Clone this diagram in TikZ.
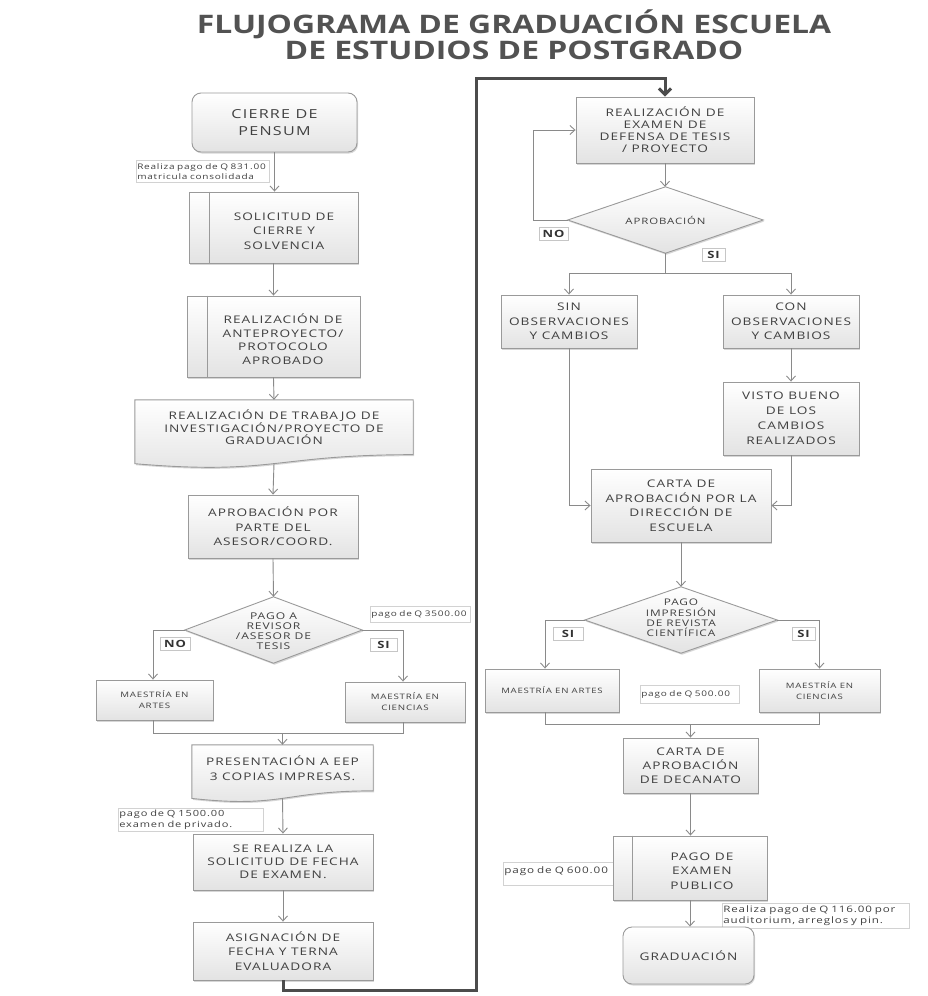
\documentclass[tikz,border=0pt]{standalone}
\usepackage{fontspec}
\setmainfont{Open Sans}[FakeStretch=1.3,LetterSpace=10]
\newfontfamily\titlefont{Open Sans}[FakeStretch=1.25]
\usetikzlibrary{arrows.meta,shadows,calc}
\definecolor{txt}{HTML}{404040}
\definecolor{edgec}{HTML}{9A9A9A}
\definecolor{arrowc}{HTML}{8A8A8A}
\tikzset{
  boxfill/.style={draw=edgec, line width=0.9pt, top color=white, bottom color=gray!22,
    drop shadow={shadow xshift=1pt, shadow yshift=-1.5pt, fill=gray!70, opacity=0.45}},
  pbox/.style={boxfill, rectangle, text=txt, align=center, inner sep=1pt, font=\fontsize{10.5}{14.5}\selectfont},
  rbox/.style={pbox, rounded corners=9pt},
  txtnode/.style={text=txt, align=center, inner sep=0pt, font=\fontsize{10.5}{14.5}\selectfont},
  note/.style={draw=gray!35, line width=0.6pt, fill=white, text=txt, align=left, inner sep=1pt,
    font=\fontsize{7.7}{10}\selectfont, anchor=north west},
  lbl/.style={draw=gray!45, line width=0.6pt, fill=white, text=black!80,
    font=\bfseries\fontsize{10}{10}\selectfont, inner sep=1pt, minimum height=13},
  arr/.style={draw=arrowc, line width=0.9pt, -{Straight Barb[length=5pt,width=9pt]}},
  ln/.style={draw=arrowc, line width=0.9pt},
  sepline/.style={draw=edgec, line width=0.9pt},
  big/.style={draw=black!70, line width=3pt, -{Straight Barb[length=6pt,width=12pt]}},
}
\begin{document}
\begin{tikzpicture}[x=1pt,y=-1pt]
\fill[white] (0,0) rectangle (927,996);
\useasboundingbox (0,0) rectangle (927,996);

% title
\node[font=\titlefont\bfseries\fontsize{25.5}{25.5}\selectfont, text=black!68, align=center] (title) at (514,35)
  {FLUJOGRAMA DE GRADUACIÓN ESCUELA\\DE ESTUDIOS DE POSTGRADO};

% ---------------- left column ----------------
\node[rbox, minimum width=165, minimum height=59, font=\fontsize{12.4}{17}\selectfont] (cierre) at (274.5,122.5) {CIERRE DE\\PENSUM};
\node[note, text width=131, minimum height=22] (n1) at (136,160) {Realiza pago de Q 831.00\\matricula consolidada};

\node[pbox, minimum width=169, minimum height=71] (solic) at (273.5,227.5) {};
\draw[sepline] ($(solic.north west)+(21,0)$) -- ($(solic.south west)+(21,0)$);
\node[txtnode] (solicT) at (284,231) {SOLICITUD DE\\CIERRE Y\\SOLVENCIA};

\node[pbox, minimum width=173, minimum height=81] (ante) at (273.5,336.5) {};
\draw[sepline] ($(ante.north west)+(21,0)$) -- ($(ante.south west)+(21,0)$);
\node[txtnode, font=\fontsize{10.5}{13.5}\selectfont] (anteT) at (283,339) {REALIZACIÓN DE\\ANTEPROYECTO/\\PROTOCOLO\\APROBADO};

\node[inner sep=0, minimum width=278, minimum height=68] (trab) at (274,434) {};
\path[boxfill] (trab.north west) -- (trab.north east) -- ($(trab.north east)!0.802!(trab.south east)$)
  .. controls ($(trab.north)!0.802!(trab.south)$) and ($(trab.north)!1.107!(trab.south)$) ..
  ($(trab.north west)!0.934!(trab.south west)$) -- cycle;
\node[txtnode, font=\fontsize{10.5}{11.7}\selectfont] (trabT) at (274,427) {REALIZACIÓN DE TRABAJO DE\\INVESTIGACIÓN/PROYECTO DE\\GRADUACIÓN};

\node[pbox, minimum width=170, minimum height=63] (aprob) at (273,526.5) {APROBACIÓN POR\\PARTE DEL\\ASESOR/COORD.};

\node[inner sep=0, minimum width=177, minimum height=66] (d1) at (273.5,630) {};
\path[boxfill] (d1.west) -- (d1.north) -- (d1.east) -- (d1.south) -- cycle;
\node[txtnode, font=\fontsize{9.3}{9.8}\selectfont] (d1T) at (273.5,631) {PAGO A\\REVISOR\\/ASESOR DE\\TESIS};
\node[note, text width=98, minimum height=16] (n3500) at (370,606) {pago de Q 3500.00};

\node[pbox, minimum width=117, minimum height=40, font=\fontsize{7.5}{11}\selectfont] (artes1) at (154.5,700) {MAESTRÍA EN\\ARTES};
\node[pbox, minimum width=120, minimum height=40, font=\fontsize{7.5}{11}\selectfont] (cien1) at (405,702) {MAESTRÍA EN\\CIENCIAS};

\node[inner sep=0, minimum width=181, minimum height=57] (pres) at (282.5,773.5) {};
\path[boxfill] (pres.north west) -- (pres.north east) -- ($(pres.north east)!0.802!(pres.south east)$)
  .. controls ($(pres.north)!0.802!(pres.south)$) and ($(pres.north)!1.107!(pres.south)$) ..
  ($(pres.north west)!0.934!(pres.south west)$) -- cycle;
\node[txtnode] (presT) at (282.5,768) {PRESENTACIÓN A EEP\\3 COPIAS IMPRESAS.};

\node[note, text width=143, minimum height=23, font=\fontsize{8.5}{10.5}\selectfont] (n1500) at (118,808) {pago de Q 1500.00\\examen de privado.};
\node[pbox, minimum width=180, minimum height=56, font=\fontsize{10.5}{13}\selectfont] (solf) at (283,862) {SE REALIZA LA\\SOLICITUD DE FECHA\\DE EXAMEN.};
\node[pbox, minimum width=180, minimum height=58] (asig) at (283,951) {ASIGNACIÓN DE\\FECHA Y TERNA\\EVALUADORA};

% ---------------- right column ----------------
\node[pbox, minimum width=178, minimum height=66, font=\fontsize{10.5}{12}\selectfont] (exam) at (665,130) {REALIZACIÓN DE\\EXAMEN DE\\DEFENSA DE TESIS\\/ PROYECTO};

\node[inner sep=0, minimum width=195, minimum height=66] (d2) at (665.5,220) {};
\path[boxfill] (d2.west) -- (d2.north) -- (d2.east) -- (d2.south) -- cycle;
\node[txtnode, font=\fontsize{8.8}{9}\selectfont] (d2T) at (665.5,220) {APROBACIÓN};

\node[pbox, minimum width=136, minimum height=53] (sin) at (569,321.5) {SIN\\OBSERVACIONES\\Y CAMBIOS};
\node[pbox, minimum width=136, minimum height=53] (con) at (791,321.5) {CON\\OBSERVACIONES\\Y CAMBIOS};
\node[pbox, minimum width=136, minimum height=73, font=\fontsize{10.5}{15}\selectfont] (visto) at (791,418.5) {VISTO BUENO\\DE LOS\\CAMBIOS\\REALIZADOS};
\node[pbox, minimum width=180, minimum height=73] (cartadir) at (681,505.5) {CARTA DE\\APROBACIÓN POR LA\\DIRECCIÓN DE\\ESCUELA};

\node[inner sep=0, minimum width=192, minimum height=66] (d3) at (681,620) {};
\path[boxfill] (d3.west) -- (d3.north) -- (d3.east) -- (d3.south) -- cycle;
\node[txtnode, font=\fontsize{9.1}{10.3}\selectfont] (d3T) at (681,618) {PAGO\\IMPRESIÓN\\DE REVISTA\\CIENTÍFICA};

\node[pbox, minimum width=134, minimum height=43, font=\fontsize{7.4}{11}\selectfont] (artes2) at (552,690.5) {MAESTRÍA EN ARTES};
\node[note, text width=97, minimum height=18] (n500) at (640,685) {pago de Q 500.00};
\node[pbox, minimum width=121, minimum height=43, font=\fontsize{7.4}{11}\selectfont] (cien2) at (819.5,690.5) {MAESTRÍA EN\\CIENCIAS};

\node[pbox, minimum width=135, minimum height=55, font=\fontsize{10.5}{14}\selectfont] (decan) at (690.5,765.5) {CARTA DE\\APROBACIÓN\\DE DECANATO};

\node[note, text width=108, minimum height=23, font=\fontsize{9}{11}\selectfont] (n600) at (503,862) {pago de Q 600.00\\[-3pt] \mbox{}};
\node[pbox, minimum width=154, minimum height=64] (pagopub) at (690,868) {};
\draw[sepline] ($(pagopub.north west)+(20,0)$) -- ($(pagopub.south west)+(20,0)$);
\node[txtnode] (pagopubT) at (702,871) {PAGO DE\\EXAMEN\\PUBLICO};

\node[note, text width=185, minimum height=25, font=\fontsize{8.9}{11}\selectfont] (n116) at (722,903) {Realiza pago de Q 116.00 por\\auditorium, arreglos y pin.};
\node[rbox, minimum width=131, minimum height=57] (grad) at (688.5,955.5) {GRADUACIÓN};

% ---------------- connectors left ----------------
\draw[arr] (cierre.south) -- (cierre.south |- solic.north);
\draw[arr] (solic.south) -- (ante.north);
\draw[arr] (ante.south) -- (trab.north);
\draw[arr] ($(trab.north)!0.93!(trab.south)$) -- (aprob.north);
\draw[arr] (aprob.south) -- (d1.north);
\draw[arr] (d1.west) -| ($(artes1.north)+(-1.5,0)$);
\draw[arr] (d1.east) -| ($(cien1.north)+(-2,0)$);
\node[lbl, minimum width=30] (no1) at (175,644) {NO};
\node[lbl, minimum width=27] (si1) at (383.5,644.5) {SI};
\coordinate (m1) at (282.5,733);
\draw[ln] ($(artes1.south)+(-1.5,0)$) |- (m1);
\draw[ln] ($(cien1.south)+(-2,0)$) |- (m1);
\draw[arr] (m1) -- (pres.north);
\draw[arr] ($(pres.north)!0.93!(pres.south)$) -- (solf.north);
\draw[arr] (solf.south) -- (asig.north);

% big connector between columns
\coordinate (b1) at (476,990);
\coordinate (b2) at (476,78);
\draw[big] (asig.south) |- (b1) -- (b2) -| (exam.north);

% ---------------- connectors right ----------------
\draw[arr] (exam.south) -- (exam.south |- d2.north);
\draw[arr] (d2.west) -- ++(-34,0) |- (exam.west);
\node[lbl, minimum width=29] (no2) at (553.5,234) {NO};
\node[lbl, minimum width=23] (si2) at (713.5,255) {SI};
\coordinate (f2) at (665.5,273);
\draw[ln] (d2.south) -- (f2);
\draw[arr] (f2) -| (sin.north);
\draw[arr] (f2) -| (con.north);
\draw[arr] (con.south) -- (visto.north);
\draw[arr] (sin.south) |- (cartadir.west);
\draw[arr] (visto.south) |- (cartadir.east);
\draw[arr] (cartadir.south) -- (d3.north);
\draw[arr] (d3.west) -| ($(artes2.north)+(-7,0)$);
\draw[arr] (d3.east) -| (cien2.north);
\node[lbl, minimum width=30] (si3a) at (568,633.5) {SI};
\node[lbl, minimum width=23] (si3b) at (803.5,633.5) {SI};
\coordinate (m2) at (690.5,724);
\draw[ln] ($(artes2.south)+(-7,0)$) |- (m2);
\draw[ln] (cien2.south) |- (m2);
\draw[arr] (m2) -- (decan.north);
\draw[arr] (decan.south) -- (decan.south |- pagopub.north);
\draw[arr] (pagopub.south) -- (pagopub.south |- grad.north);
\end{tikzpicture}
\end{document}
